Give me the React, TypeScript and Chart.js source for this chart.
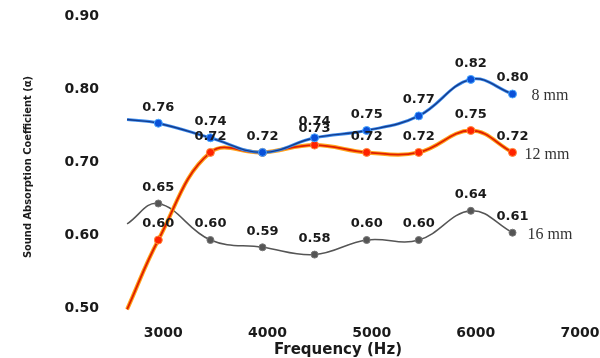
import React, { useEffect, useRef } from 'react';
import { Chart, registerables } from 'chart.js';
Chart.register(...registerables);

const frequencies = [2700, 3000, 3500, 4000, 4500, 5000, 5500, 6000, 6400];
const series8mm = [0.765, 0.76, 0.74, 0.72, 0.74, 0.75, 0.77, 0.82, 0.80];
const series12mm = [0.505, 0.60, 0.72, 0.72, 0.73, 0.72, 0.72, 0.75, 0.72];
const series16mm = [0.622, 0.65, 0.60, 0.59, 0.58, 0.60, 0.60, 0.64, 0.61];
const seriesNames = ['8 mm', '12 mm', '16 mm'];
const unlabeled8mm = [0, 3];
const unlabeled12mm = [0];
const unlabeled16mm = [0];
const xTicks = [3000, 4000, 5000, 6000, 7000];
const yTicks = [0.5, 0.6, 0.7, 0.8, 0.9];
const xTitle = 'Frequency (Hz)';
const yTitle = 'Sound Absorption Coefficient (α)';

const pts = (vals: number[]) => frequencies.map((f, i) => ({ x: f, y: vals[i] }));

const textPlugin = {
  id: 'textPlugin',
  afterDatasetsDraw(chart: any) {
    const ctx = chart.ctx;
    ctx.save();
    chart.data.datasets.forEach((ds: any, di: number) => {
      if (ds.seriesIndex === undefined) return;
      const meta = chart.getDatasetMeta(di);
      const skip: number[] = ds.skipLabels;
      ctx.font = 'bold 13px "DejaVu Sans", sans-serif';
      ctx.fillStyle = '#1a1a1a';
      ctx.textAlign = 'center';
      ctx.textBaseline = 'middle';
      meta.data.forEach((p: any, i: number) => {
        if (skip.includes(i)) return;
        ctx.fillText(ds.data[i].y.toFixed(2), p.x, p.y - 16);
      });
      const last = meta.data[meta.data.length - 1];
      ctx.font = '16px "Liberation Serif", serif';
      ctx.fillStyle = '#333';
      ctx.textAlign = 'left';
      ctx.fillText(seriesNames[ds.seriesIndex], last.x + ds.nameDx, last.y + 2);
    });
    ctx.font = 'bold 15px "DejaVu Sans", sans-serif';
    ctx.fillStyle = '#1a1a1a';
    ctx.textAlign = 'center';
    ctx.textBaseline = 'middle';
    ctx.fillText(xTitle, 338, 350);
    ctx.translate(28, 167);
    ctx.rotate(-Math.PI / 2);
    ctx.font = 'bold 11px "Liberation Sans Narrow", "DejaVu Sans Condensed", sans-serif';
    ctx.fillText(yTitle, 0, 0);
    ctx.restore();
  },
};

export default function App() {
  const ref = useRef<HTMLCanvasElement>(null);
  useEffect(() => {
    const canvas = ref.current!;
    const chart = new Chart(canvas, {
      type: 'line',
      data: {
        datasets: [
          {
            data: pts(series16mm), borderColor: '#555', borderWidth: 1.5, tension: 0.4,
            pointRadius: (c: any) => (c.dataIndex === 0 ? 0 : 3.5), pointBackgroundColor: '#555', pointBorderColor: '#777', pointBorderWidth: 1,
            seriesIndex: 2, skipLabels: unlabeled16mm, nameDx: 15, order: 5,
          } as any,
          {
            data: pts(series12mm), borderColor: '#ffa31a', borderWidth: 4, tension: 0.4, pointRadius: 0, order: 4,
          },
          {
            data: pts(series12mm), borderColor: '#e01e00', borderWidth: 1.8, tension: 0.4,
            pointRadius: (c: any) => (c.dataIndex === 0 ? 0 : 4), pointBackgroundColor: '#ff2200', pointBorderColor: '#ff8a3a', pointBorderWidth: 1,
            seriesIndex: 1, skipLabels: unlabeled12mm, nameDx: 12, order: 3,
          } as any,
          {
            data: pts(series8mm), borderColor: '#3d8ef0', borderWidth: 3, tension: 0.4, pointRadius: 0, order: 2,
          },
          {
            data: pts(series8mm), borderColor: '#153c8c', borderWidth: 1.4, tension: 0.4,
            pointRadius: (c: any) => (c.dataIndex === 0 ? 0 : 4), pointBackgroundColor: '#0a50d8', pointBorderColor: '#4aa8ff', pointBorderWidth: 1,
            seriesIndex: 0, skipLabels: unlabeled8mm, nameDx: 19, order: 1,
          } as any,
        ],
      },
      options: {
        responsive: false,
        animation: false,
        layout: { padding: { top: 21, right: 25, left: 0, bottom: 0 } },
        plugins: { legend: { display: false }, tooltip: { enabled: false } },
        scales: {
          x: {
            type: 'linear', min: 2680, max: 7000,
            afterBuildTicks: (s: any) => { s.ticks = xTicks.map((v) => ({ value: v })); },
            afterFit: (s: any) => { s.height = 45; s.paddingLeft = 0; s.paddingRight = 0; },
            grid: { display: false },
            border: { display: false },
            ticks: { callback: (v: any) => String(v), labelOffset: 5, padding: 4, color: '#1a1a1a', font: { family: '"DejaVu Sans", sans-serif', size: 14, weight: 'bold' }, maxRotation: 0 },
          },
          y: {
            type: 'linear', min: 0.5, max: 0.9,
            afterBuildTicks: (s: any) => { s.ticks = yTicks.map((v) => ({ value: v })); },
            afterFit: (s: any) => { s.width = 125; s.paddingTop = 0; s.paddingBottom = 0; },
            grid: { display: false },
            border: { display: false },
            ticks: { callback: (v: any) => Number(v).toFixed(2), labelOffset: -5, padding: 18, color: '#1a1a1a', font: { family: '"DejaVu Sans", sans-serif', size: 14, weight: 'bold' } },
          },
        },
      },
      plugins: [textPlugin],
    } as any);
    return () => chart.destroy();
  }, []);
  return (
    <div style={{ position: 'fixed', left: 0, top: 0, width: 600, height: 358, background: '#fff' }}>
      <canvas ref={ref} width={600} height={358} style={{ width: 600, height: 358, display: 'block' }} />
    </div>
  );
}
